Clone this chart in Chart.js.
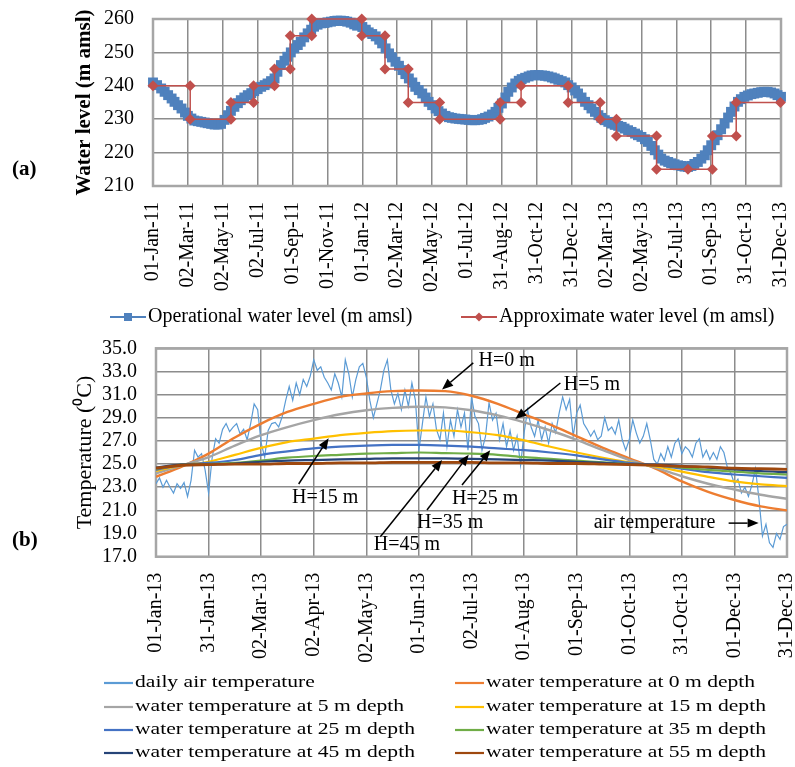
<!DOCTYPE html>
<html>
<head>
<meta charset="utf-8">
<script src="https://cdn.jsdelivr.net/npm/chart.js@4.4.1/dist/chart.umd.min.js"></script>
<style>
  html, body { margin: 0; padding: 0; background: #fff; }
  #wrap { position: relative; width: 795px; height: 767px; overflow: hidden; }
  canvas { position: absolute; left: 0; }
  #levelChart { top: 0; width: 795px; height: 335px; }
  #tempChart { top: 335px; width: 795px; height: 432px; }
</style>
</head>
<body>
<div id="wrap">
  <canvas id="levelChart" width="795" height="335"></canvas>
  <canvas id="tempChart" width="795" height="432"></canvas>
</div>
<script>
// ---------- (a) reservoir water level, Jan 2011 - Dec 2013 (x = days since 01-Jan-11) ----------
const levelTickLabels = ['01-Jan-11','02-Mar-11','02-May-11','02-Jul-11','01-Sep-11','01-Nov-11',
  '01-Jan-12','02-Mar-12','02-May-12','01-Jul-12','31-Aug-12','31-Oct-12','31-Dec-12',
  '02-Mar-13','02-May-13','02-Jul-13','01-Sep-13','31-Oct-13','31-Dec-13'];
const levelTicks = [210, 220, 230, 240, 250, 260];

const opDays = [0,7,14,20,26,32,37,43,49,55,60,66,71,77,83,89,94,100,106,112,117,123,129,134,140,146,
  151,157,163,169,174,180,186,192,197,203,209,214,220,226,231,237,243,249,254,260,266,272,277,283,289,
  295,300,306,312,317,323,329,334,340,346,351,360,366,371,377,383,389,394,400,406,411,417,423,429,434,
  440,446,451,457,463,469,474,480,486,491,497,503,509,514,520,526,531,537,543,549,554,560,566,571,577,
  583,589,594,600,606,611,617,623,629,634,640,646,651,657,663,669,674,680,686,691,697,703,709,714,720,
  726,731,737,743,749,754,760,766,771,777,783,789,794,800,806,811,817,823,829,834,840,846,851,857,863,
  869,874,880,886,891,897,903,909,914,920,926,931,937,943,949,954,960,966,971,977,983,989,994,1000,1006,
  1011,1017,1023,1029,1034,1040,1046,1051,1057,1063,1069,1074,1080];
const opLevel = [241.0,240.2,239.2,238.2,237.2,236.2,235.2,234.2,233.2,232.0,231.0,230.2,229.6,229.4,229.2,
  229.0,228.8,228.6,228.4,228.4,228.6,229.8,231.2,232.5,233.7,234.8,235.7,236.5,237.2,237.8,238.4,239.0,
  239.7,240.2,240.7,241.4,242.2,244.2,246.2,247.5,248.7,250.0,251.2,252.2,253.2,254.5,255.7,256.8,257.7,
  258.3,258.7,258.8,259.0,259.2,259.4,259.5,259.5,259.4,259.2,258.9,258.4,258.0,257.6,256.8,256.0,255.5,
  254.8,253.8,252.7,251.2,249.7,248.5,247.2,246.0,244.7,243.5,242.2,241.0,239.7,238.7,237.7,236.5,235.2,
  234.2,233.2,232.4,231.7,231.0,230.6,230.4,230.2,230.1,230.0,229.9,229.8,229.7,229.7,229.8,230.0,230.4,
  230.8,231.4,232.2,233.4,234.7,236.5,238.2,239.5,240.7,241.5,242.0,242.4,242.8,243.1,243.2,243.2,243.1,
  243.0,242.8,242.5,242.2,241.8,241.4,241.0,240.2,239.5,238.6,237.7,236.5,235.2,234.2,233.2,232.2,231.2,
  230.4,229.7,229.2,228.7,228.3,228.0,227.7,227.2,226.7,226.2,225.7,225.2,224.7,224.0,223.2,222.0,220.7,
  219.4,218.2,217.6,217.2,216.8,216.5,216.2,216.0,215.8,215.7,216.0,216.6,217.2,218.2,219.2,220.7,222.2,
  223.7,225.2,227.0,228.7,230.5,232.2,233.8,235.2,236.0,236.7,237.1,237.5,237.7,237.9,238.1,238.2,238.2,
  238.0,237.7,237.2,236.7];

const apDays = [0,64,64,134,134,173,173,209,209,236,236,273,273,359,359,399,399,439,439,493,493,597,597,
  633,633,714,714,769,769,797,797,866,866,920,962,962,1003,1003,1079];
const apLevel = [240,240,230,230,235,235,240,240,245,245,255,255,260,260,255,255,245,245,235,235,230,230,
  235,235,240,240,235,235,230,230,225,225,215,215,215,225,225,235,235];

// ---------- (b) air and water temperatures, 2013 (x = days since 01-Jan-13) ----------
const tempTickLabels = ['01-Jan-13','31-Jan-13','02-Mar-13','02-Apr-13','02-May-13','01-Jun-13',
  '02-Jul-13','01-Aug-13','01-Sep-13','01-Oct-13','31-Oct-13','01-Dec-13','31-Dec-13'];
const tempTicks = [17, 19, 21, 23, 25, 27, 29, 31, 33, 35];

// daily air temperature, one reading every second day
const airTemp = [23.3,23.8,23.0,23.6,23.0,22.5,23.3,22.9,23.4,22.2,23.6,26.2,25.6,25.9,24.5,22.5,25.5,27.2,
  26.8,28.0,28.5,27.8,28.2,28.5,27.6,28.0,27.1,28.5,30.2,29.7,26.8,25.6,27.9,28.5,28.6,28.2,29.1,30.5,31.7,
  30.5,32.0,31.0,32.3,31.7,32.6,34.0,33.1,33.4,32.5,32.0,31.4,32.8,32.0,30.8,34.0,32.8,30.8,32.3,33.4,33.7,
  32.5,30.5,29.0,30.2,31.4,33.1,34.0,31.4,30.2,31.1,29.7,31.4,30.0,32.0,30.5,26.2,28.5,30.8,29.1,30.2,28.0,
  27.1,29.4,26.5,28.8,27.4,29.7,28.2,29.4,26.2,30.8,29.1,28.5,26.2,27.4,30.3,28.8,29.4,27.1,28.5,26.5,27.9,
  26.2,27.4,24.9,27.7,29.7,28.2,27.4,28.8,27.1,28.2,26.8,28.5,27.7,29.4,30.8,29.7,30.6,27.4,29.4,30.1,28.5,
  28.0,27.4,27.9,27.1,27.4,29.0,27.9,28.2,27.6,28.8,27.1,26.2,27.1,28.8,27.7,26.8,27.4,28.5,27.1,25.4,25.0,
  25.9,25.3,26.5,25.6,26.8,27.2,25.9,26.5,26.2,25.6,26.8,27.2,25.6,26.2,25.4,26.0,25.4,26.5,26.0,24.7,24.2,
  23.3,23.7,22.5,23.0,22.2,23.2,24.6,22.0,18.8,19.8,18.2,17.8,19.0,18.5,19.6,19.8];

// water temperature profiles, one value every 15 days
const waterDays = [0,15,30,45,60,75,90,105,120,135,150,165,180,195,210,225,240,255,270,285,300,315,330,345,360];
const water0m  = [23.9,24.8,25.9,27.3,28.5,29.5,30.2,30.8,31.1,31.3,31.35,31.3,30.9,30.2,29.3,28.4,27.4,26.4,25.5,24.6,23.5,22.6,21.9,21.35,21.0];
const water5m  = [24.2,24.9,25.6,26.6,27.5,28.2,28.8,29.3,29.65,29.85,29.95,29.9,29.65,29.2,28.6,27.9,27.1,26.2,25.35,24.7,23.95,23.3,22.8,22.35,22.0];
const water15m = [24.4,24.9,25.2,25.8,26.4,26.9,27.2,27.5,27.7,27.85,27.9,27.9,27.75,27.5,27.05,26.5,26.0,25.55,25.15,24.8,24.35,23.9,23.5,23.25,23.1];
const water25m = [24.5,24.95,25.1,25.35,25.8,26.1,26.35,26.5,26.6,26.65,26.65,26.6,26.5,26.35,26.2,26.0,25.75,25.4,25.1,24.9,24.6,24.3,24.1,23.95,23.8];
const water35m = [24.6,24.95,25.0,25.1,25.3,25.55,25.7,25.8,25.9,25.95,26.0,25.95,25.9,25.8,25.6,25.45,25.3,25.15,25.0,24.9,24.7,24.5,24.35,24.2,24.1];
const water45m = [24.7,24.95,24.95,25.05,25.2,25.3,25.35,25.4,25.45,25.5,25.5,25.5,25.45,25.4,25.35,25.3,25.2,25.1,25.0,24.95,24.85,24.7,24.55,24.4,24.3];
const water55m = [24.65,24.9,24.95,25.0,25.0,25.05,25.05,25.1,25.1,25.15,25.15,25.15,25.15,25.1,25.1,25.05,25.05,25.0,24.95,24.9,24.8,24.75,24.65,24.6,24.55];

// callouts on panel (b): label anchor and arrow (tail -> head), in axis units
const callouts = [
  { text: 'H=0 m',  tx: 184,   ty: 33.9,  ax0: 181,   ay0: 33.74, ax1: 163.2, ay1: 31.45 },
  { text: 'H=5 m',  tx: 232.6, ty: 31.84, ax0: 230.7, ay0: 32.0,  ax1: 205,   ay1: 28.9 },
  { text: 'H=15 m', tx: 77.6,  ty: 22.1,  ax0: 81.4,  ay0: 23.28, ax1: 98.5,  ay1: 27.23 },
  { text: 'H=25 m', tx: 168.9, ty: 22.0,  ax0: 174.6, ay0: 23.2,  ax1: 190.7, ay1: 26.2 },
  { text: 'H=35 m', tx: 148.9, ty: 19.95, ax0: 154.6, ay0: 21.04, ax1: 178.4, ay1: 25.8 },
  { text: 'H=45 m', tx: 124.2, ty: 18.0,  ax0: 128,   ay0: 18.73, ax1: 163.2, ay1: 25.35 },
  { text: 'air temperature', tx: 249.7, ty: 19.9, ax0: 326.7, ay0: 19.9, ax1: 343.8, ay1: 19.9 }
];

// ---------- shared helpers ----------
Chart.defaults.font.family = "'Liberation Serif', 'Times New Roman', serif";
Chart.defaults.color = '#000';

const zip = (xs, ys) => xs.map((x, i) => ({ x: x, y: ys[i] }));
const GRID = '#8c8c8c';

// outer plot frame
const framePlugin = {
  id: 'frame',
  beforeDatasetsDraw(chart, args, opts) {
    const { ctx, chartArea: a } = chart;
    ctx.save();
    ctx.strokeStyle = opts.color;
    ctx.lineWidth = opts.width;
    ctx.strokeRect(a.left, a.top, a.right - a.left, a.bottom - a.top);
    ctx.restore();
  }
};

// series key drawn with a line segment and the series marker
const keyPlugin = {
  id: 'seriesKey',
  afterDraw(chart, args, opts) {
    const ctx = chart.ctx;
    ctx.save();
    ctx.font = opts.font;
    ctx.textBaseline = 'middle';
    ctx.textAlign = 'left';
    opts.items.forEach(it => {
      const ds = chart.data.datasets[it.dataset];
      const x0 = it.x, x1 = it.x + opts.lineLen, y = it.y, cx = (x0 + x1) / 2;
      ctx.strokeStyle = ds.borderColor;
      ctx.lineWidth = opts.lineWidth;
      ctx.beginPath(); ctx.moveTo(x0, y); ctx.lineTo(x1, y); ctx.stroke();
      ctx.fillStyle = ds.borderColor;
      if (ds.pointStyle === 'rect') {
        ctx.fillRect(cx - 4, y - 4, 8, 8);
      } else if (ds.pointStyle === 'rectRot') {
        ctx.beginPath(); ctx.moveTo(cx, y - 4.5); ctx.lineTo(cx + 4.5, y); ctx.lineTo(cx, y + 4.5); ctx.lineTo(cx - 4.5, y); ctx.closePath(); ctx.fill();
      }
      ctx.fillStyle = '#000';
      ctx.save();
      ctx.translate(x1 + opts.gap, y);
      ctx.scale(opts.stretch, 1);
      ctx.fillText(ds.label, 0, 0);
      ctx.restore();
    });
    ctx.restore();
  }
};

// panel letter, e.g. "(a)"
const panelTagPlugin = {
  id: 'panelTag',
  afterDraw(chart, args, opts) {
    const ctx = chart.ctx;
    ctx.save();
    ctx.font = "bold 21px 'Liberation Serif', serif";
    ctx.fillStyle = '#000';
    ctx.textBaseline = 'middle';
    ctx.fillText(opts.text, opts.x, opts.y);
    ctx.restore();
  }
};

// arrowed callouts placed in axis units
const calloutPlugin = {
  id: 'callouts',
  afterDatasetsDraw(chart, args, opts) {
    const { ctx, scales: { x, y } } = chart;
    ctx.save();
    ctx.font = "20px 'Liberation Serif', serif";
    ctx.fillStyle = '#000';
    ctx.strokeStyle = '#000';
    ctx.lineWidth = 1.5;
    ctx.textBaseline = 'middle';
    opts.items.forEach(c => {
      ctx.fillText(c.text, x.getPixelForValue(c.tx), y.getPixelForValue(c.ty));
      const x0 = x.getPixelForValue(c.ax0), y0 = y.getPixelForValue(c.ay0);
      const x1 = x.getPixelForValue(c.ax1), y1 = y.getPixelForValue(c.ay1);
      const ang = Math.atan2(y1 - y0, x1 - x0), L = 11, W = 4.5;
      const bx = x1 - L * Math.cos(ang), by = y1 - L * Math.sin(ang);
      ctx.beginPath(); ctx.moveTo(x0, y0); ctx.lineTo(bx, by); ctx.stroke();
      ctx.beginPath();
      ctx.moveTo(x1, y1);
      ctx.lineTo(bx + W * Math.sin(ang), by - W * Math.cos(ang));
      ctx.lineTo(bx - W * Math.sin(ang), by + W * Math.cos(ang));
      ctx.closePath(); ctx.fill();
    });
    ctx.restore();
  }
};

function fixWidth(w) {
  return s => { s.width = w; s.paddingTop = 0; s.paddingBottom = 0; };
}
function fixHeight(h) {
  return s => { s.height = h; s.paddingLeft = 0; s.paddingRight = 0; };
}

// ---------- chart (a) ----------
new Chart(document.getElementById('levelChart'), {
  type: 'line',
  data: {
    datasets: [
      {
        label: 'Operational water level (m amsl)',
        data: zip(opDays, opLevel),
        borderColor: '#4F81BD', backgroundColor: '#4F81BD',
        borderWidth: 6, pointStyle: 'rect', pointRadius: 7, pointBorderWidth: 0,
        tension: 0, clip: false, order: 2
      },
      {
        label: 'Approximate water level (m amsl)',
        data: zip(apDays, apLevel),
        borderColor: '#C0504D', backgroundColor: '#C0504D',
        borderWidth: 1.5, pointStyle: 'rectRot', pointRadius: 5.5, pointBorderWidth: 0,
        tension: 0, clip: false, order: 1
      }
    ]
  },
  options: {
    responsive: false, animation: false, devicePixelRatio: 1,
    layout: { padding: { top: 19, right: 14, bottom: 0, left: 0 } },
    plugins: {
      legend: { display: false }, tooltip: { enabled: false },
      frame: { color: '#a6a6a6', width: 2.5 },
      seriesKey: {
        font: "20px 'Liberation Serif', serif", lineLen: 36, lineWidth: 2, gap: 2, stretch: 1,
        items: [{ dataset: 0, x: 110, y: 317 }, { dataset: 1, x: 461, y: 317 }]
      },
      panelTag: { text: '(a)', x: 12, y: 170 }
    },
    scales: {
      x: {
        type: 'linear', min: 0, max: 1080,
        afterBuildTicks: s => { s.ticks = levelTickLabels.map((_, i) => ({ value: i * 60 })); },
        afterFit: fixHeight(149),
        ticks: {
          autoSkip: false, maxRotation: 90, minRotation: 90, padding: 16,
          font: { size: 20 }, color: '#000',
          callback: (v, i) => levelTickLabels[i]
        },
        grid: { color: GRID, lineWidth: 1.5, drawTicks: false },
        border: { display: false }
      },
      y: {
        min: 210, max: 260,
        afterBuildTicks: s => { s.ticks = levelTicks.map(v => ({ value: v })); },
        afterFit: fixWidth(153),
        ticks: { autoSkip: false, padding: 19, font: { size: 20 }, color: '#000' },
        grid: { color: GRID, lineWidth: 1.5, drawTicks: false },
        border: { display: false },
        title: {
          display: true, text: 'Water level (m amsl)', color: '#000',
          font: { size: 21, weight: 'bold' }, padding: { top: 72, bottom: 0 }
        }
      }
    }
  },
  plugins: [framePlugin, keyPlugin, panelTagPlugin]
});

// ---------- chart (b) ----------
const waterSeries = [
  ['water temperature at 0 m depth',  water0m,  '#ED7D31', 2.4],
  ['water temperature at 5 m depth',  water5m,  '#A5A5A5', 2.4],
  ['water temperature at 15 m depth', water15m, '#FFC000', 2.2],
  ['water temperature at 25 m depth', water25m, '#4472C4', 2.2],
  ['water temperature at 35 m depth', water35m, '#70AD47', 2.2],
  ['water temperature at 45 m depth', water45m, '#264478', 2.2],
  ['water temperature at 55 m depth', water55m, '#9E480E', 2.8]
];

const tempDatasets = [{
  label: 'daily air temperature',
  data: airTemp.map((t, i) => ({ x: i * 2, y: t })),
  borderColor: '#5B9BD5', backgroundColor: '#5B9BD5',
  borderWidth: 1.2, pointRadius: 0, tension: 0, order: 20
}].concat(waterSeries.map((w, k) => ({
  label: w[0],
  data: zip(waterDays, w[1]),
  borderColor: w[2], backgroundColor: w[2],
  borderWidth: w[3], pointRadius: 0, cubicInterpolationMode: 'monotone', order: 10 - k
})));

new Chart(document.getElementById('tempChart'), {
  type: 'line',
  data: { datasets: tempDatasets },
  options: {
    responsive: false, animation: false, devicePixelRatio: 1,
    layout: { padding: { top: 13.3, right: 8, bottom: 0, left: 0 } },
    plugins: {
      legend: { display: false }, tooltip: { enabled: false },
      frame: { color: '#a6a6a6', width: 2.5 },
      callouts: { items: callouts },
      seriesKey: {
        font: "17px 'Liberation Serif', serif", lineLen: 29, lineWidth: 2.2, gap: 2, stretch: 1.27,
        items: [
          { dataset: 0, x: 104, y: 348 }, { dataset: 1, x: 455, y: 348 },
          { dataset: 2, x: 104, y: 372 }, { dataset: 3, x: 455, y: 372 },
          { dataset: 4, x: 104, y: 395 }, { dataset: 5, x: 455, y: 395 },
          { dataset: 6, x: 104, y: 418 }, { dataset: 7, x: 455, y: 418 }
        ]
      },
      panelTag: { text: '(b)', x: 12, y: 206 }
    },
    scales: {
      x: {
        type: 'linear', min: 0, max: 360,
        afterBuildTicks: s => { s.ticks = tempTickLabels.map((_, i) => ({ value: i * 30 })); },
        afterFit: fixHeight(210.3),
        ticks: {
          autoSkip: false, maxRotation: 90, minRotation: 90, padding: 16,
          font: { size: 20 }, color: '#000',
          callback: (v, i) => tempTickLabels[i]
        },
        grid: { color: GRID, lineWidth: 1.5, drawTicks: false },
        border: { display: false }
      },
      y: {
        min: 17, max: 35,
        afterBuildTicks: s => { s.ticks = tempTicks.map(v => ({ value: v })); },
        afterFit: fixWidth(156),
        ticks: { autoSkip: false, padding: 19, font: { size: 20 }, color: '#000', callback: v => Number(v).toFixed(1) },
        grid: { color: GRID, lineWidth: 1.5, drawTicks: false },
        border: { display: false },
        title: {
          display: true, text: 'Temperature (\u2070C)', color: '#000',
          font: { size: 22 }, padding: { top: 72, bottom: 0 }
        }
      }
    }
  },
  plugins: [framePlugin, keyPlugin, panelTagPlugin, calloutPlugin]
});
</script>
</body>
</html>
